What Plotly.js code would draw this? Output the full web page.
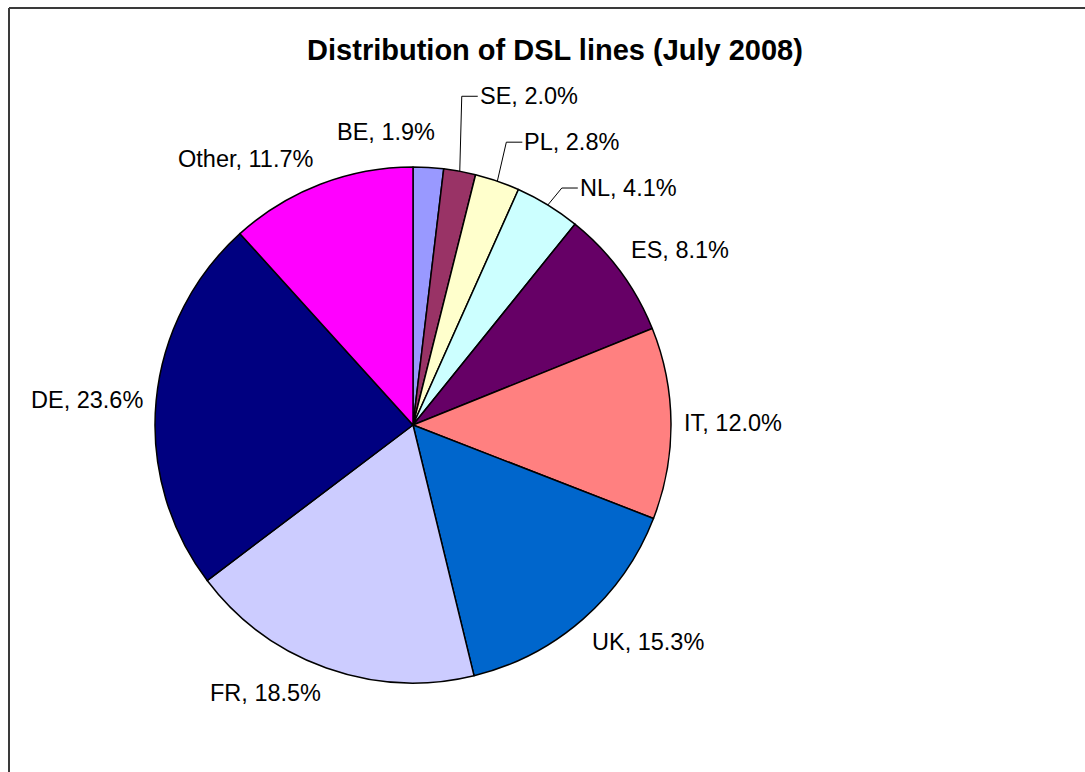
<!DOCTYPE html>
<html>
<head>
<meta charset="utf-8">
<script src="https://cdn.plot.ly/plotly-3.0.1.min.js"></script>
<style>
html,body{margin:0;padding:0;background:#fff;overflow:hidden;}
#chart{width:1085px;height:772px;}
</style>
</head>
<body>
<div id="chart"></div>
<script>
// ---- data ----
const countries = ['BE','SE','PL','NL','ES','IT','UK','FR','DE','Other'];
const shares = [1.9, 2.0, 2.8, 4.1, 8.1, 12.0, 15.3, 18.5, 23.6, 11.7];
const sliceColors = ['#9999FF','#993366','#FFFFCC','#CCFFFF','#660066','#FF8080','#0066CC','#CCCCFF','#000080','#FF00FF'];
const chartTitle = 'Distribution of DSL lines (July 2008)';

// ---- layout geometry (pixels) ----
const W = 1085, H = 772;
const CX = 413, CY = 425, R = 258, GAP = 11;
const FONT = 'Liberation Sans, Arial, sans-serif';
const LABEL_SIZE = 23.5;
// labels moved by the original layout (offset from slice edge midpoint)
const labelMoves = {
  BE: {dx: 9, dy: -20, xanchor: 'right', yanchor: 'bottom', leader: false},
  SE: {dx: 2, dy: -75, leader: true},
  PL: {dx: 9, dy: -39, leader: true},
  NL: {dx: 14, dy: -17, leader: true}
};

const px = x => x / W;
const py = y => 1 - y / H;

const total = shares.reduce((a, b) => a + b, 0);
const annotations = [];
const shapes = [];
const lblFont = {family: FONT, size: LABEL_SIZE, color: '#000'};
let cum = 0;
countries.forEach((c, i) => {
  const v = shares[i];
  const a = (cum + v / 2) / total * 2 * Math.PI;
  cum += v;
  const s = Math.sin(a), co = Math.cos(a);
  const ex = CX + R * s, ey = CY - R * co;
  const txt = c + ', ' + v.toFixed(1) + '%';
  const mv = labelMoves[c];
  if (mv && mv.leader) {
    const bx = ex + mv.dx, by = ey + mv.dy;
    shapes.push({type: 'line', xref: 'paper', yref: 'paper', x0: px(ex), y0: py(ey), x1: px(bx), y1: py(by), line: {color: '#000', width: 1}});
    shapes.push({type: 'line', xref: 'paper', yref: 'paper', x0: px(bx), y0: py(by), x1: px(bx + 16), y1: py(by), line: {color: '#000', width: 1}});
    annotations.push({text: txt, xref: 'paper', yref: 'paper', x: px(bx + 16), y: py(by), xanchor: 'left', yanchor: 'middle', showarrow: false, font: lblFont});
  } else if (mv) {
    annotations.push({text: txt, xref: 'paper', yref: 'paper', x: px(ex + mv.dx), y: py(ey + mv.dy), xanchor: mv.xanchor, yanchor: mv.yanchor, showarrow: false, font: lblFont});
  } else {
    const lx = CX + (R + GAP) * s, ly = CY - (R + GAP) * co;
    const xa = s > 0.05 ? 'left' : (s < -0.05 ? 'right' : 'center');
    const ya = co > 0.5 ? 'bottom' : (co < -0.5 ? 'top' : 'middle');
    annotations.push({text: txt, xref: 'paper', yref: 'paper', x: px(lx), y: py(ly), xanchor: xa, yanchor: ya, showarrow: false, font: lblFont});
  }
});

// chart frame (left and top edges visible)
shapes.push({type: 'line', xref: 'paper', yref: 'paper', x0: px(9), y0: 0, x1: px(9), y1: py(8), line: {color: '#3a3a3a', width: 2}});
shapes.push({type: 'line', xref: 'paper', yref: 'paper', x0: px(9), y0: py(8), x1: px(1085), y1: py(8), line: {color: '#3a3a3a', width: 2}});

const trace = {
  type: 'pie',
  labels: countries,
  values: shares,
  sort: false,
  direction: 'clockwise',
  rotation: 0,
  textinfo: 'none',
  hoverinfo: 'label+percent',
  marker: {colors: sliceColors, line: {color: '#000', width: 1.5}},
  domain: {x: [px(CX - R), px(CX + R)], y: [py(CY + R), py(CY - R)]},
  showlegend: false
};

const layout = {
  width: W, height: H,
  margin: {l: 0, r: 0, t: 0, b: 0, pad: 0},
  paper_bgcolor: '#fff',
  showlegend: false,
  title: {text: '<b>' + chartTitle + '</b>', x: px(555), xanchor: 'center', xref: 'paper', y: py(50), yanchor: 'middle', yref: 'paper', font: {family: FONT, size: 29, color: '#000'}},
  annotations: annotations,
  shapes: shapes
};

Plotly.newPlot('chart', [trace], layout, {displayModeBar: false, staticPlot: true});
</script>
</body>
</html>
